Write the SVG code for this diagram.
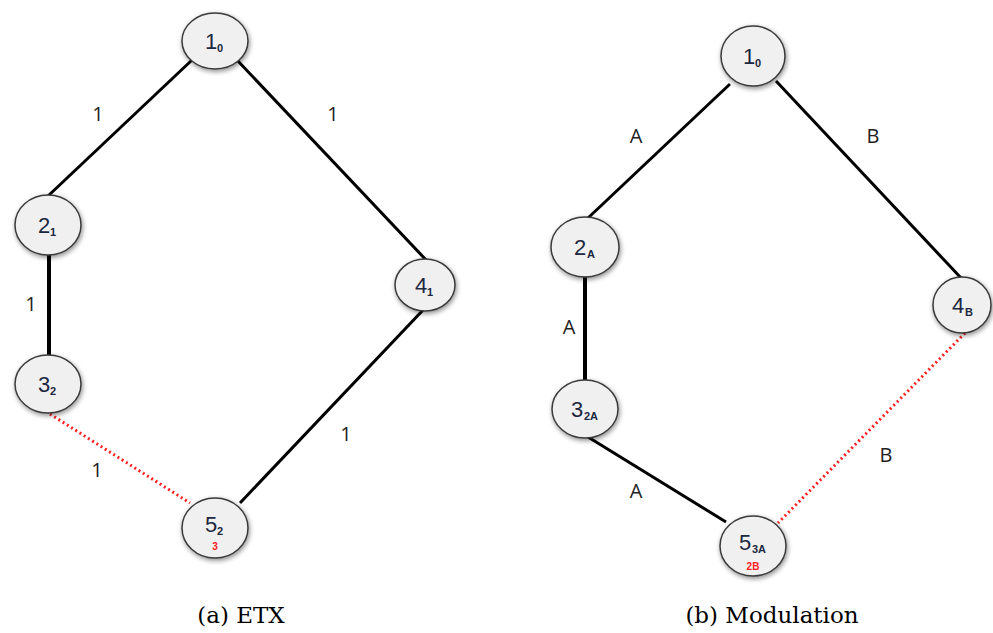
<svg xmlns="http://www.w3.org/2000/svg" width="993" height="633" viewBox="0 0 993 633">
<defs>
<filter id="sh" x="-30%" y="-30%" width="160%" height="160%">
<feGaussianBlur in="SourceAlpha" stdDeviation="2.5"/>
<feOffset dx="1" dy="2" result="b"/>
<feComponentTransfer><feFuncA type="linear" slope="0.45"/></feComponentTransfer>
<feMerge><feMergeNode/><feMergeNode in="SourceGraphic"/></feMerge>
</filter>
</defs>
<style>
.n ellipse{fill:#f0f0f0;stroke:#3a3a3a;stroke-width:1.5;filter:url(#sh)}
.n text{font-family:"Liberation Sans","Open Sans",sans-serif;fill:#1c2840;text-anchor:middle}
.n .m{font-size:22px}
.n .s{font-size:11px;font-weight:bold;text-anchor:start}
.n .r{font-size:10px;font-weight:bold;fill:#ff2020}
.e{stroke:#000;stroke-width:3;fill:none}
.v{stroke:#000;stroke-width:4;fill:none}
.d{stroke:#ff2020;stroke-width:3;stroke-dasharray:2 3;fill:none}
.l{font-family:"Open Sans","Liberation Sans",sans-serif;font-size:20px;fill:#222;text-anchor:middle}
.c{font-family:"DejaVu Serif","Liberation Serif",serif;font-size:23px;fill:#000;text-anchor:middle}
</style>
<rect width="993" height="633" fill="#fff"/>
<g id="connectors">
<line class="e" x1="192" y1="60" x2="48" y2="196"/>
<line class="e" x1="237" y1="60" x2="428" y2="262"/>
<line class="v" x1="49" y1="254" x2="49" y2="356"/>
<line class="e" x1="424" y1="309" x2="240" y2="503"/>
<line class="d" x1="50" y1="414" x2="190" y2="503"/>
<line class="e" x1="730" y1="84" x2="588" y2="218"/>
<line class="e" x1="776" y1="81" x2="962" y2="279"/>
<line class="v" x1="585" y1="276" x2="585" y2="381"/>
<line class="e" x1="588" y1="437" x2="726" y2="522"/>
<line class="d" x1="965" y1="333" x2="778" y2="523"/>
</g>
<g id="labels">
<text class="l" x="98" y="121">1</text>
<text class="l" x="333" y="121">1</text>
<text class="l" x="31" y="311">1</text>
<text class="l" x="346" y="441">1</text>
<text class="l" x="97" y="477">1</text>
<text class="l" x="636" y="143">A</text>
<text class="l" x="873" y="143">B</text>
<text class="l" x="569" y="334">A</text>
<text class="l" x="886" y="462">B</text>
<text class="l" x="636" y="498">A</text>
</g>
<g id="a1" class="n"><ellipse cx="215" cy="41" rx="33" ry="28"/><text class="m" x="211" y="49">1</text><text class="s" x="217" y="52">0</text></g>
<g id="a2" class="n"><ellipse cx="48" cy="225" rx="33" ry="30"/><text class="m" x="44" y="233">2</text><text class="s" x="50" y="236">1</text></g>
<g id="a3" class="n"><ellipse cx="48" cy="384" rx="33" ry="29"/><text class="m" x="44" y="392">3</text><text class="s" x="50" y="395">2</text></g>
<g id="a4" class="n"><ellipse cx="425" cy="285" rx="30" ry="26"/><text class="m" x="421" y="293">4</text><text class="s" x="427" y="296">1</text></g>
<g id="a5" class="n"><ellipse cx="215" cy="528" rx="33" ry="30"/><text class="m" x="211" y="532">5</text><text class="s" x="217" y="535">2</text><text class="r" x="215" y="550">3</text></g>
<g id="b1" class="n"><ellipse cx="753" cy="56" rx="32" ry="30"/><text class="m" x="749" y="64">1</text><text class="s" x="755" y="67">0</text></g>
<g id="b2" class="n"><ellipse cx="585" cy="247" rx="34" ry="30"/><text class="m" x="580" y="255">2</text><text class="s" x="587" y="258">A</text></g>
<g id="b3" class="n"><ellipse cx="585" cy="409" rx="33" ry="29"/><text class="m" x="577" y="417">3</text><text class="s" x="584" y="420">2A</text></g>
<g id="b4" class="n"><ellipse cx="962" cy="305" rx="29" ry="28"/><text class="m" x="958" y="313">4</text><text class="s" x="965" y="316">B</text></g>
<g id="b5" class="n"><ellipse cx="753" cy="546" rx="33" ry="30"/><text class="m" x="745" y="550">5</text><text class="s" x="752" y="553">3A</text><text class="r" x="753" y="570">2B</text></g>
<text class="c" x="241" y="623">(a) ETX</text>
<text class="c" x="772" y="623">(b) Modulation</text>
</svg>
